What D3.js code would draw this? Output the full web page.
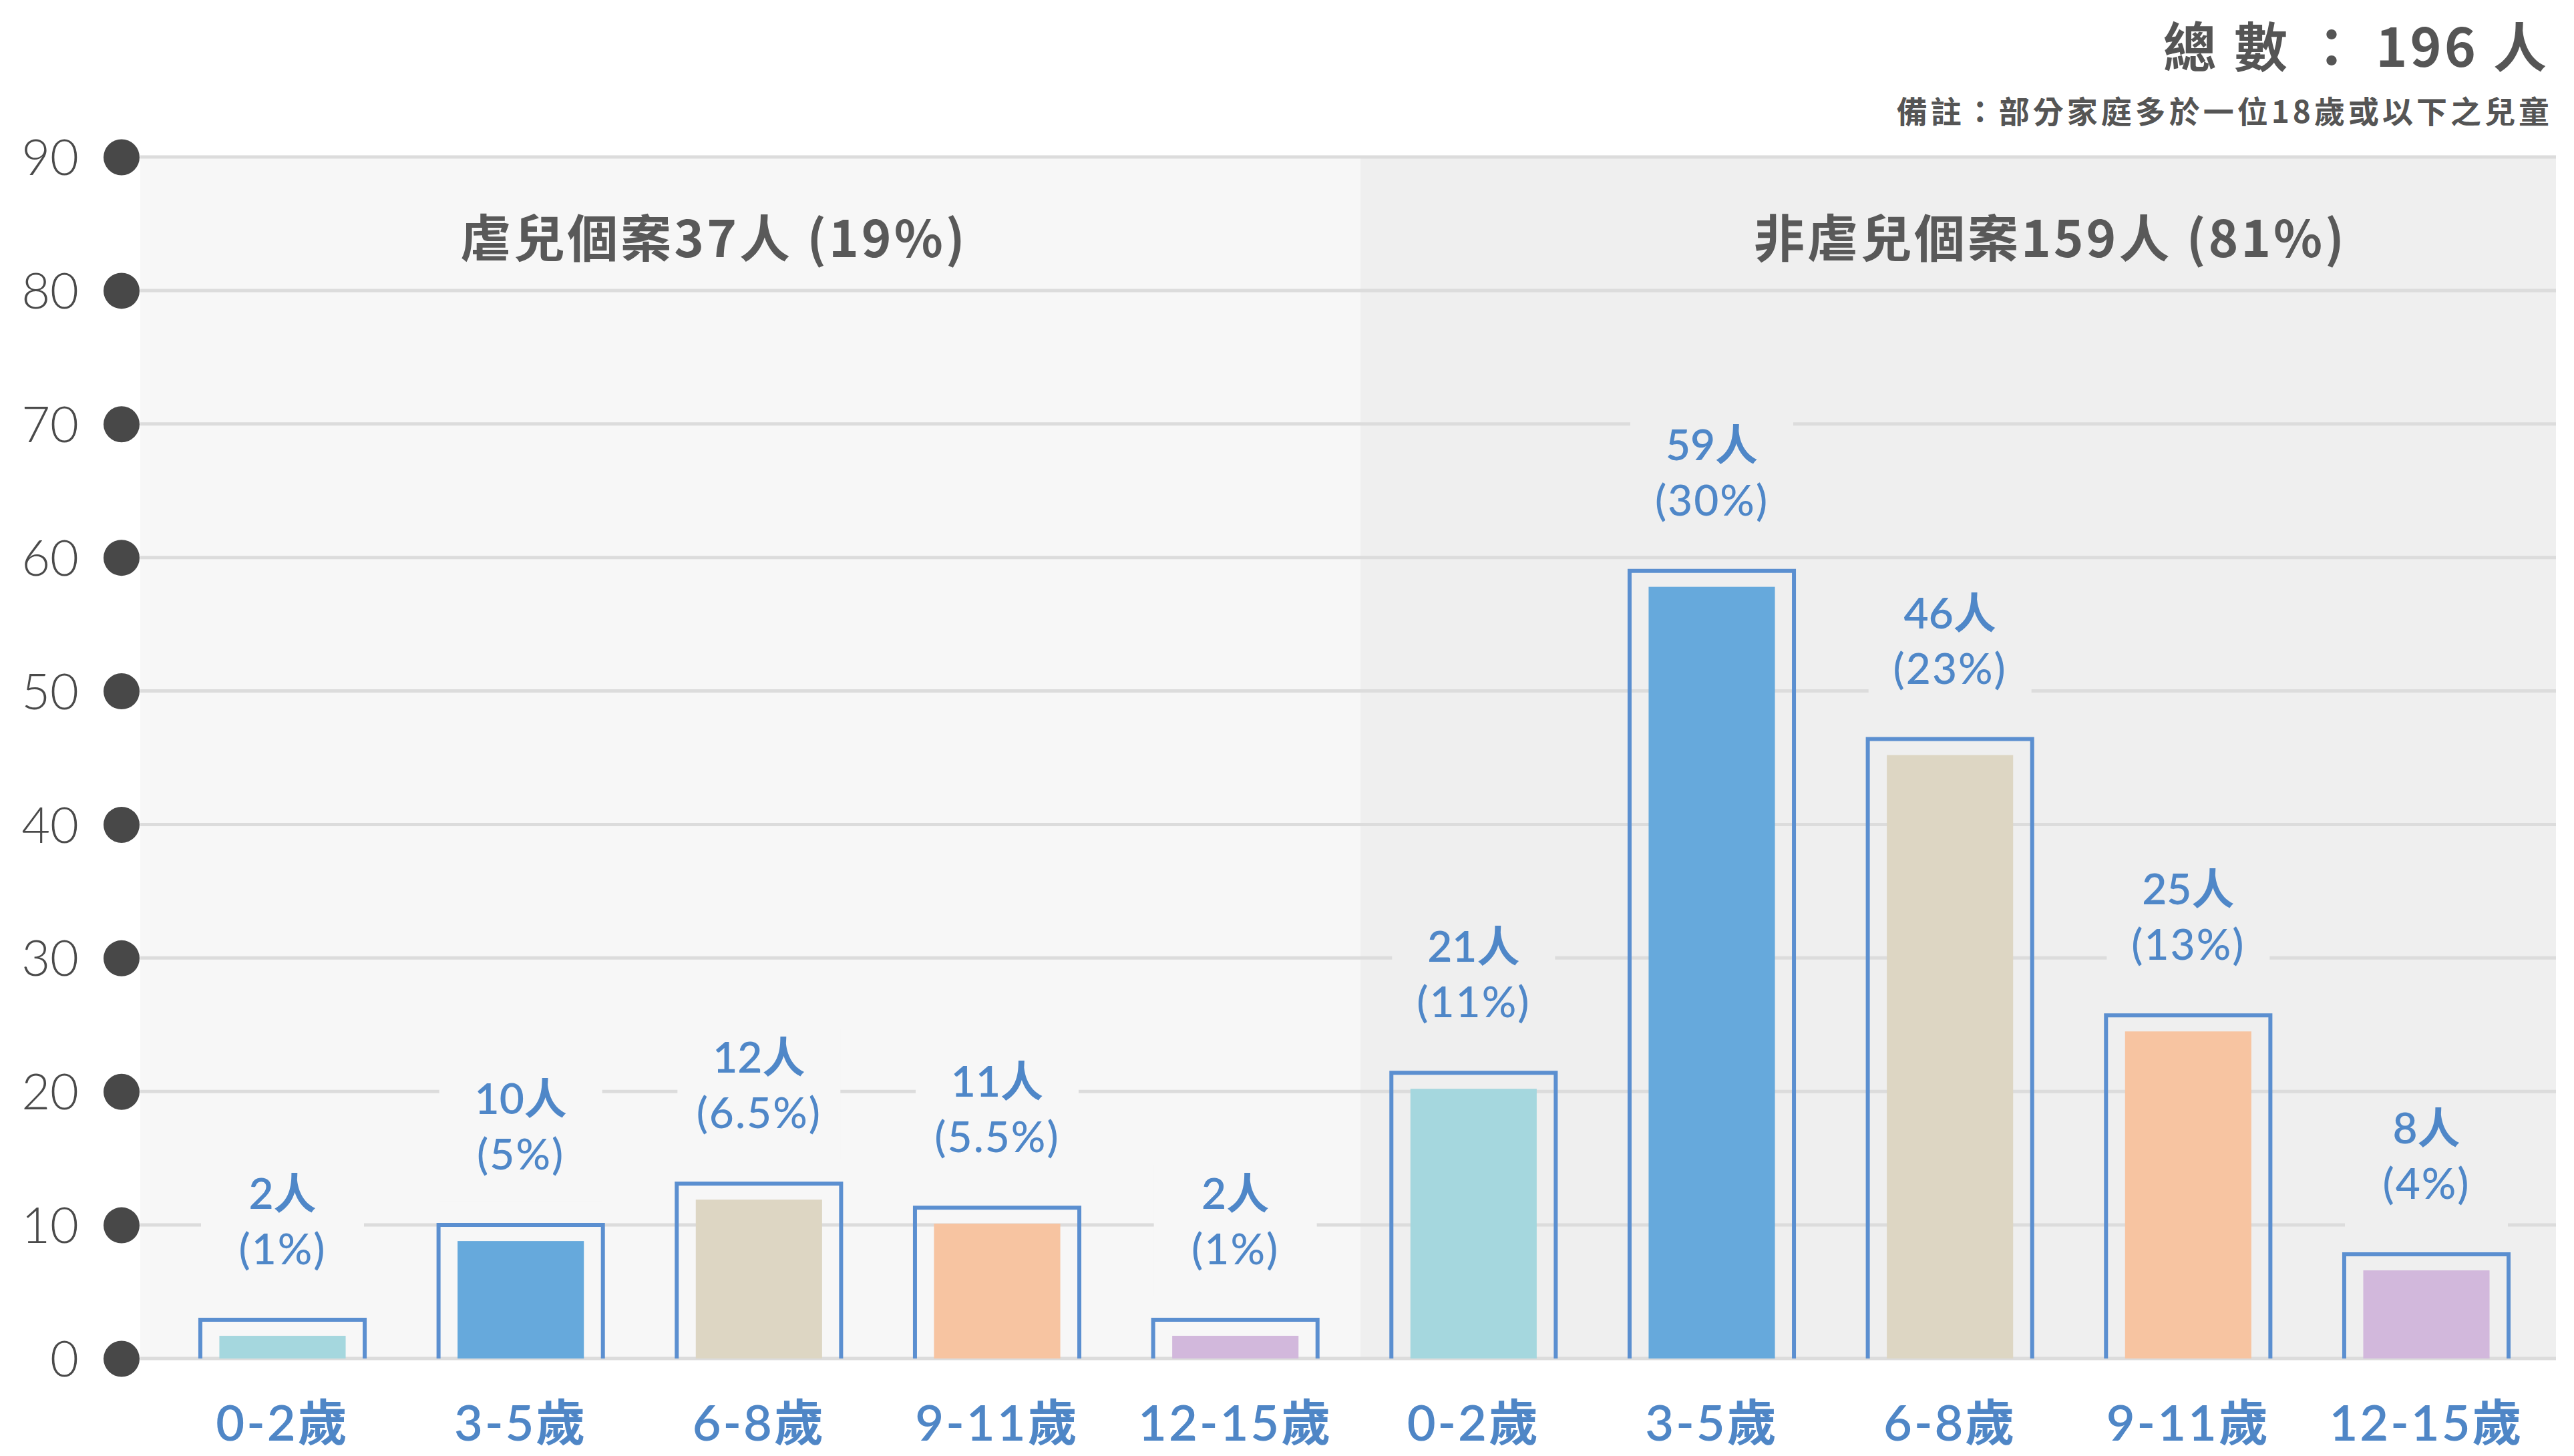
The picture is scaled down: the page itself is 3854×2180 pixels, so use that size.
<!DOCTYPE html>
<html>
<head>
<meta charset="utf-8">
<script src="https://cdn.jsdelivr.net/npm/d3@7"></script>
<style>
  html, body { margin: 0; padding: 0; background: #fff; }
  svg { display: block; }
</style>
</head>
<body>
<div id="chart"></div>
<script>
// data
var ageGroups   = ['0-2歲', '3-5歲', '6-8歲', '9-11歲', '12-15歲'];
var groupTitles = ['虐兒個案37人 (19%)', '非虐兒個案159人 (81%)'];
var counts      = [2, 10, 12, 11, 2, 21, 59, 46, 25, 8];
var percents    = ['1%', '5%', '6.5%', '5.5%', '1%', '11%', '30%', '23%', '13%', '4%'];
// heights of the outlined boxes as drawn in the original
var boxHeights  = [2.9, 10, 13.1, 11.3, 2.9, 21.4, 59, 46.4, 25.7, 7.8];
var yTicks      = [0, 10, 20, 30, 40, 50, 60, 70, 80, 90];
var titleText   = '總 數 ： 196 人';
var noteText    = '備註：部分家庭多於一位18歲或以下之兒童';

var ageColors = ['#a5d7de', '#66a9dc', '#ddd6c3', '#f7c4a1', '#d2b8dc'];

var width  = 3854;
var height = 2180;
var plot = { left: 210, right: 3827, top: 235, bottom: 2034, split: 2037 };
var latin = 'Lato, "Noto Sans CJK TC", sans-serif';
var cjk = '"Noto Sans CJK TC", Lato, sans-serif';

var bars = counts.map(function(c, i) {
  return {
    id: i,
    group: i < 5 ? 0 : 1,
    age: ageGroups[i % 5],
    count: c,
    pct: percents[i],
    box: boxHeights[i],
    color: ageColors[i % 5]
  };
});

var svg = d3.select('#chart')
            .append('svg')
            .attr('width', width)
            .attr('height', height);

var step = 356.67;
var xScale = d3.scaleBand()
               .domain(bars.map(function(d){ return d.id; }))
               .range([423 - step / 2, 3633 + step / 2])
               .paddingInner(0.31)
               .paddingOuter(0.155);

var yScale = d3.scaleLinear()
               .domain([0, 90])
               .range([plot.bottom, plot.top]);

// panel backgrounds
svg.append('rect')
   .attr('x', plot.left).attr('y', plot.top)
   .attr('width', plot.split - plot.left)
   .attr('height', plot.bottom - plot.top)
   .attr('fill', '#f7f7f7');
svg.append('rect')
   .attr('x', plot.split).attr('y', plot.top)
   .attr('width', plot.right - plot.split)
   .attr('height', plot.bottom - plot.top)
   .attr('fill', '#efefef');

// gridlines
svg.append('g')
   .selectAll('line')
   .data(yTicks)
   .join('line')
   .attr('x1', plot.left)
   .attr('x2', plot.right)
   .attr('y1', function(d){ return yScale(d); })
   .attr('y2', function(d){ return yScale(d); })
   .attr('stroke', '#dcdcdc')
   .attr('stroke-width', 5);

// y axis with dots
var yAxis = d3.axisLeft(yScale).tickValues(yTicks).tickSize(0).tickPadding(64);
var yG = svg.append('g')
            .attr('transform', 'translate(182,0)')
            .call(yAxis);
yG.select('.domain').remove();
yG.selectAll('.tick text')
  .attr('font-family', latin)
  .attr('font-weight', 300)
  .attr('font-size', 74)
  .attr('fill', '#4a4a4a')
  .attr('dy', '0.36em');
yG.selectAll('.tick')
  .append('circle')
  .attr('r', 27)
  .attr('fill', '#484848');

// group headers
svg.append('g')
   .selectAll('text')
   .data(groupTitles)
   .join('text')
   .attr('x', function(d, i){ return i === 0 ? 1069 : 3070; })
   .attr('y', 385)
   .attr('text-anchor', 'middle')
   .attr('font-family', cjk)
   .attr('font-weight', 700)
   .attr('font-size', 76)
   .attr('letter-spacing', 4)
   .attr('fill', '#595959')
   .text(function(d){ return d; });

// bars: outline box plus inner fill
var inset = 28.5;
var topInset = 24;
var barG = svg.append('g');

barG.selectAll('rect.fill')
    .data(bars)
    .join('rect')
    .attr('class', 'fill')
    .attr('x', function(d){ return xScale(d.id) + inset; })
    .attr('width', xScale.bandwidth() - 2 * inset)
    .attr('y', function(d){ return yScale(d.box) + topInset; })
    .attr('height', function(d){ return yScale(0) - yScale(d.box) - topInset; })
    .attr('fill', function(d){ return d.color; });

barG.selectAll('path.box')
    .data(bars)
    .join('path')
    .attr('class', 'box')
    .attr('d', function(d) {
      var p = d3.path();
      var x0 = xScale(d.id), x1 = x0 + xScale.bandwidth();
      p.moveTo(x0, yScale(0));
      p.lineTo(x0, yScale(d.box));
      p.lineTo(x1, yScale(d.box));
      p.lineTo(x1, yScale(0));
      return p.toString();
    })
    .attr('fill', 'none')
    .attr('stroke', '#5b8fd0')
    .attr('stroke-width', 6);

// value labels with a halo hiding the gridlines
var labelG = svg.append('g')
                .selectAll('g')
                .data(bars)
                .join('g')
                .attr('transform', function(d) {
                  return 'translate(' + (xScale(d.id) + xScale.bandwidth() / 2) + ',' + yScale(d.box) + ')';
                });
labelG.append('rect')
      .attr('x', -122)
      .attr('width', 244)
      .attr('y', -232)
      .attr('height', 196)
      .attr('fill', function(d){ return d.group === 0 ? '#f7f7f7' : '#efefef'; });
labelG.append('text')
      .attr('y', -166)
      .attr('text-anchor', 'middle')
      .attr('font-family', latin)
      .attr('font-weight', 600)
      .attr('font-size', 64)
      .attr('fill', '#4f87c8')
      .text(function(d){ return d.count + '人'; });
labelG.append('text')
      .attr('y', -83)
      .attr('text-anchor', 'middle')
      .attr('font-family', latin)
      .attr('font-weight', 500)
      .attr('font-size', 64)
      .attr('letter-spacing', 2)
      .attr('fill', '#4f87c8')
      .text(function(d){ return '(' + d.pct + ')'; });

// x axis
var xAxis = d3.axisBottom(xScale)
              .tickSize(0)
              .tickFormat(function(i){ return bars[i].age; });
var xG = svg.append('g')
            .attr('transform', 'translate(0,' + plot.bottom + ')')
            .call(xAxis);
xG.select('.domain').remove();
xG.selectAll('.tick text')
  .attr('y', 97)
  .attr('dy', '0.35em')
  .attr('font-family', latin)
  .attr('font-weight', 600)
  .attr('font-size', 74)
  .attr('letter-spacing', 3)
  .attr('fill', '#4f86c6');

// title and note
svg.append('text')
   .attr('x', 3817)
   .attr('y', 100)
   .attr('text-anchor', 'end')
   .attr('font-family', cjk)
   .attr('font-weight', 700)
   .attr('font-size', 80)
   .attr('letter-spacing', 4)
   .attr('fill', '#555')
   .text(titleText);

svg.append('text')
   .attr('x', 3822)
   .attr('y', 184)
   .attr('text-anchor', 'end')
   .attr('font-family', cjk)
   .attr('font-weight', 700)
   .attr('font-size', 46)
   .attr('letter-spacing', 5)
   .attr('fill', '#555')
   .text(noteText);
</script>
</body>
</html>
